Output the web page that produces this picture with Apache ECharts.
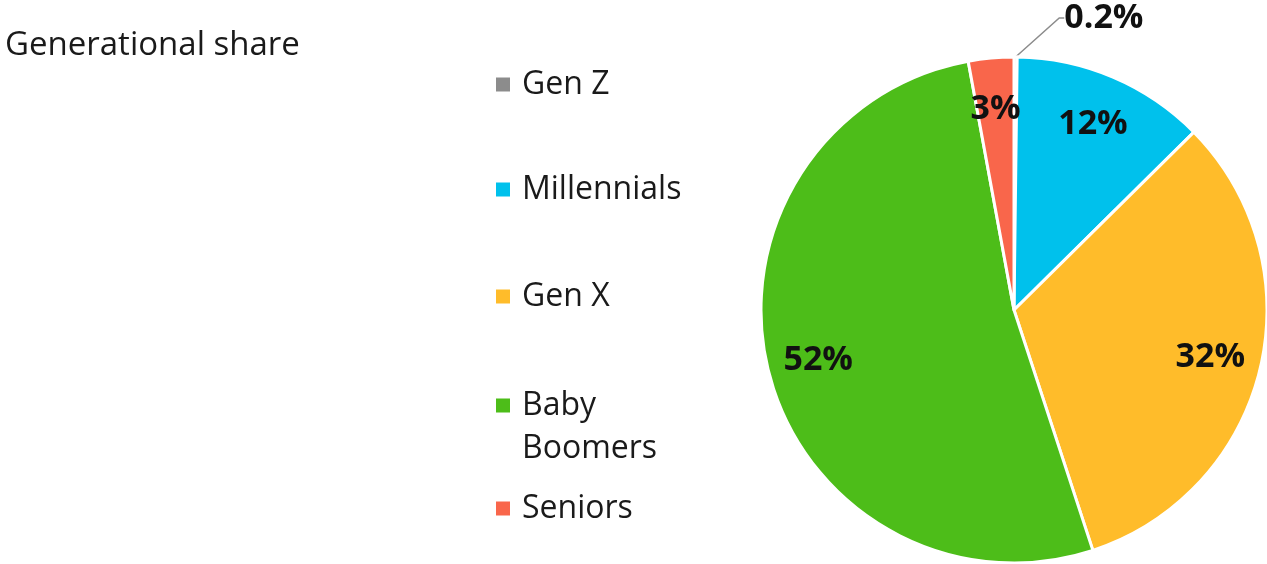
<!DOCTYPE html>
<html>
<head>
<meta charset="utf-8">
<script src="https://cdn.jsdelivr.net/npm/echarts@6/dist/echarts.min.js"></script>
<style>
  html, body { margin: 0; padding: 0; background: #fff; }
  #chart { width: 1267px; height: 564px; }
</style>
</head>
<body>
<div id="chart"></div>
<script>
// Generational share data
var generations = ['Gen Z', 'Millennials', 'Gen X', 'Baby Boomers', 'Seniors'];
var shares = [0.2, 12.4, 32.4, 52.2, 2.9];
var shareLabels = ['0.2%', '12%', '32%', '52%', '3%'];
var colors = ['#8c8c8c', '#00c1ec', '#ffbc2a', '#4dbd19', '#f9664b'];

var myChart = echarts.init(document.getElementById('chart'));

var font = 'Open Sans';
var cx = 1014, cy = 310, r = 253;

// square icon drawn at the top of a taller box, so it lines up with the first text line
var topSquare = 'path://M0,0h14v14h-14Z M0,57h0.01';

// one legend per item so each row sits where it does in the picture
var legendTops = [58, 163, 270, 379, 482];
var legends = generations.map(function (name, i) {
    var isTwoLine = name === 'Baby Boomers';
    return {
        orient: 'vertical',
        left: 491,
        top: legendTops[i],
        icon: isTwoLine ? topSquare : 'rect',
        itemWidth: 14,
        itemHeight: isTwoLine ? 57 : 14,
        selectedMode: false,
        itemStyle: { borderWidth: 0 },
        data: [name],
        formatter: function (n) { return n === 'Baby Boomers' ? 'Baby\nBoomers' : n; },
        textStyle: {
            fontFamily: font,
            fontSize: 32,
            color: '#1a1a1a',
            lineHeight: 43,
            padding: [0, 0, 0, 7]
        }
    };
});

var option = {
    animation: false,
    title: {
        text: 'Generational share',
        left: 0,
        top: 24,
        textStyle: { fontFamily: font, fontSize: 33, fontWeight: 'normal', color: '#1a1a1a' }
    },
    legend: legends,
    series: [{
        type: 'pie',
        center: [cx, cy],
        radius: r,
        startAngle: 90,
        clockwise: true,
        avoidLabelOverlap: false,
        itemStyle: { borderColor: '#fff', borderWidth: 3 },
        label: {
            position: 'inside',
            fontFamily: font,
            fontSize: 34,
            fontWeight: 'bold',
            color: '#111',
            formatter: function (p) { return shareLabels[p.dataIndex]; }
        },
        labelLine: { show: false },
        labelLayout: function (p) {
            var lx = p.labelRect.x + p.labelRect.width / 2;
            var ly = p.labelRect.y + p.labelRect.height / 2;
            if (p.dataIndex === 0) {
                return { x: lx - 1, y: ly - 31 };
            }
            // push inside labels outward to about 0.79 of the radius
            var k = 1.56;
            return { x: cx + (lx - cx) * k, y: cy + (ly - cy) * k };
        },
        data: generations.map(function (name, i) {
            var d = { name: name, value: shares[i], itemStyle: { color: colors[i] } };
            if (i === 0) {
                d.label = { position: 'outside', color: '#111' };
                d.labelLine = { show: true, length: 8, length2: 5, lineStyle: { color: '#8c8c8c', width: 1.5 } };
            }
            return d;
        })
    }]
};

myChart.setOption(option);
</script>
</body>
</html>
